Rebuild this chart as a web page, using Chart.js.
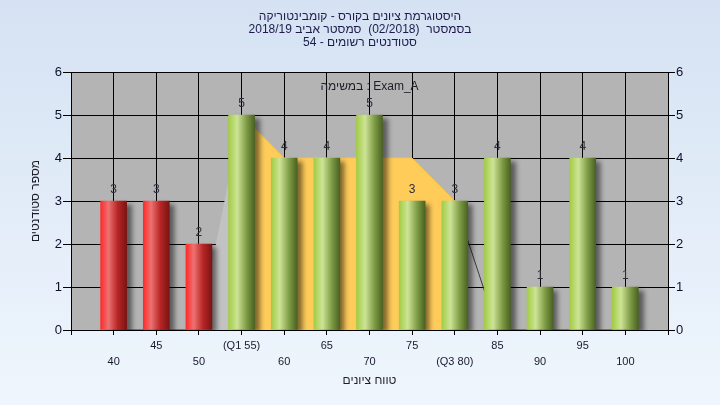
<!DOCTYPE html>
<html>
<head>
<meta charset="utf-8">
<script src="https://cdn.jsdelivr.net/npm/chart.js@4.4.1/dist/chart.umd.min.js"></script>
<style>
  html, body { margin: 0; padding: 0; }
  body { width: 720px; height: 405px; background: linear-gradient(#d5e2f3, #eff6fd); }
  canvas { display: block; }
</style>
</head>
<body>
<canvas id="histChart" width="720" height="405"></canvas>
<script>
// grade buckets and how many students landed in each
const grades = [40, 45, 50, 55, 60, 65, 70, 75, 80, 85, 90, 95, 100];
const studentCounts = [3, 3, 2, 5, 4, 4, 5, 3, 3, 4, 1, 4, 1];
const gradeLabels = ['40', '45', '50', '(Q1 55)', '60', '65', '70', '75', '(Q3 80)', '85', '90', '95', '100'];
// outline drawn behind the bars (quartile range shaded)
const rangeCurve = [0, 0, 0, 5, 4, 4, 4, 4, 3, 0, 0, 0, 0];
const q1 = 55;
const q3 = 80;
const passGrade = 55;

// title lines, each wrapped in a right-to-left embedding
const rtl = s => '\u202B' + s + '\u202C';
const titleLines = [
  'היסטוגרמת ציונים בקורס - קומבינטוריקה',
  'בסמסטר  (02/2018)  סמסטר אביב 2018/19',
  'סטודנטים רשומים - 54'
].map(rtl);
const examLabel = 'במשימה : Exam_A';
const yTitle = 'מספר סטודנטים';
const xTitle = 'טווח ציונים';

const FONT = '"Liberation Sans", "DejaVu Sans", sans-serif';
Chart.defaults.font.family = FONT;

function barGradient(chart, x) {
  const xs = chart.scales.x;
  const px = xs ? xs.getPixelForValue(x) : NaN;
  const fallback = x < passGrade ? '#c83030' : '#8cb048';
  if (!isFinite(px)) return fallback;
  const g = chart.ctx.createLinearGradient(px - 13, 0, px + 13, 0);
  if (x < passGrade) {
    g.addColorStop(0, '#ff2a2a');
    g.addColorStop(0.3, '#ec7272');
    g.addColorStop(0.65, '#b82626');
    g.addColorStop(1, '#7a1414');
  } else {
    g.addColorStop(0, '#a2cc44');
    g.addColorStop(0.33, '#cde496');
    g.addColorStop(0.7, '#7c9a44');
    g.addColorStop(1, '#4a6222');
  }
  return g;
}

const inRange = s => s.p0.parsed.x >= q1 && s.p1.parsed.x <= q3;

const plotBackground = {
  id: 'plotBackground',
  beforeDraw(chart) {
    const { ctx, chartArea: a } = chart;
    ctx.save();
    ctx.fillStyle = '#b4b4b4';
    ctx.fillRect(a.left, a.top, a.right - a.left, a.bottom - a.top);
    ctx.restore();
  }
};

const barShadow = {
  id: 'barShadow',
  beforeDatasetDraw(chart, args) {
    if (args.index !== 0) return;
    const ctx = chart.ctx;
    ctx.save();
    ctx.shadowColor = 'rgba(0,0,0,0.5)';
    ctx.shadowOffsetX = 5;
    ctx.shadowOffsetY = 3;
    ctx.shadowBlur = 5;
  },
  afterDatasetDraw(chart, args) {
    if (args.index === 0) chart.ctx.restore();
  }
};

const valueLabels = {
  id: 'valueLabels',
  afterDatasetsDraw(chart) {
    const ctx = chart.ctx;
    const meta = chart.getDatasetMeta(0);
    ctx.save();
    ctx.font = '12px ' + FONT;
    ctx.fillStyle = '#2e2e3a';
    ctx.textAlign = 'center';
    ctx.textBaseline = 'alphabetic';
    meta.data.forEach((bar, i) => {
      ctx.fillText(String(studentCounts[i]), bar.x, bar.y - 8);
    });
    // exam name inside the plot
    ctx.fillStyle = '#1e1e2a';
    ctx.fillText(examLabel, (chart.chartArea.left + chart.chartArea.right) / 2, 90);
    ctx.restore();
  }
};

const chart = new Chart(document.getElementById('histChart'), {
  type: 'bar',
  data: {
    datasets: [
      {
        type: 'bar',
        order: 0,
        data: grades.map((g, i) => ({ x: g, y: studentCounts[i] })),
        barThickness: 26,
        backgroundColor: c => c.raw ? barGradient(c.chart, c.raw.x) : '#999',
        borderWidth: 0
      },
      {
        type: 'line',
        order: 1,
        data: grades.map((g, i) => ({ x: g, y: rangeCurve[i] })),
        pointRadius: 0,
        borderWidth: 1,
        tension: 0,
        fill: 'origin',
        backgroundColor: '#ffcc5a',
        borderColor: '#3a3a3a',
        segment: {
          backgroundColor: s => inRange(s) ? '#ffcc5a' : (s.p1.parsed.x === q1 ? '#c2c2c2' : 'rgba(0,0,0,0)'),
          borderColor: s => inRange(s) ? '#f4c24e' : (s.p1.parsed.x === q1 ? 'rgba(0,0,0,0)' : '#3a3a3a')
        }
      }
    ]
  },
  options: {
    responsive: false,
    animation: false,
    devicePixelRatio: 1,
    layout: { padding: 0 },
    plugins: {
      legend: { display: false },
      tooltip: { enabled: false },
      title: {
        display: true,
        text: titleLines,
        color: '#1c1c4c',
        font: { size: 12, weight: 'normal', lineHeight: 1.1 },
        padding: { top: 10, bottom: 22.4 }
      }
    },
    scales: {
      x: {
        type: 'linear',
        min: 35,
        max: 105,
        offset: false,
        grid: { color: '#000', offset: false, tickLength: 5, tickColor: '#000' },
        border: { color: '#000' },
        ticks: {
          stepSize: 5,
          autoSkip: false,
          maxRotation: 0,
          padding: 3,
          color: '#1a1a2e',
          font: { size: 11, lineHeight: 1.45 },
          callback: v => {
            const i = grades.indexOf(v);
            if (i < 0) return '';
            return i % 2 ? [gradeLabels[i]] : ['', gradeLabels[i]];
          }
        },
        title: {
          display: true,
          text: xTitle,
          color: '#1e1e2a',
          font: { size: 12 },
          padding: { top: 0, bottom: 16.8 }
        },
        afterFit: s => { s.height = 75; }
      },
      y: {
        position: 'left',
        min: 0,
        max: 6,
        grid: { color: '#000', tickLength: 8, tickColor: '#000' },
        border: { color: '#000' },
        ticks: { stepSize: 1, padding: 1, color: '#0e0e2a', font: { size: 13 } },
        title: {
          display: true,
          text: yTitle,
          color: '#1e1e2a',
          font: { size: 12 },
          padding: { top: 28, bottom: 0 }
        },
        afterFit: s => { s.width = 71; }
      },
      y2: {
        position: 'right',
        min: 0,
        max: 6,
        grid: { drawOnChartArea: false, tickLength: 7, tickColor: '#000' },
        border: { color: '#000' },
        ticks: { stepSize: 1, padding: 1, color: '#0e0e2a', font: { size: 13 } },
        afterFit: s => { s.width = 52; }
      }
    }
  },
  plugins: [plotBackground, barShadow, valueLabels]
});
// re-run once so the bar gradients see the final scale pixels
chart.update();
</script>
</body>
</html>
